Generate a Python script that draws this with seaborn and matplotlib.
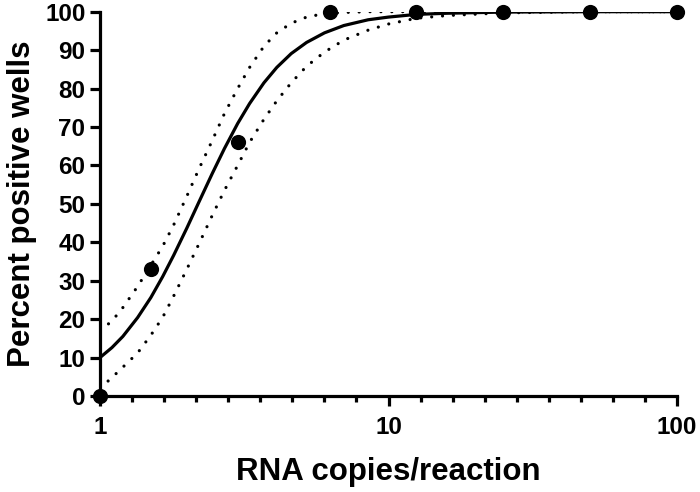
import numpy as np
import pandas as pd
import matplotlib
matplotlib.use("Agg")
import matplotlib.pyplot as plt
from matplotlib.ticker import FixedLocator, NullFormatter
import seaborn as sns

# observed data
copies = [1, 1.5, 3, 6.25, 12.5, 25, 50, 100]
percent = [0, 33, 66, 100, 100, 100, 100, 100]

# fitted curve and its confidence band
curve_x = [1, 1.1, 1.2, 1.35, 1.5, 1.65, 1.8, 2.0, 2.2, 2.45, 2.7, 3.0, 3.3, 3.7,
           4.1, 4.6, 5.2, 6.0, 7.0, 8.5, 10, 12.5, 16, 25, 50, 100]
fit_y = [10, 12.6, 15.5, 20.4, 25.6, 31.1, 36.6, 43.7, 50.4, 57.9, 64.4, 70.9, 76.1, 81.5,
         85.5, 89.1, 92.0, 94.5, 96.4, 97.9, 98.6, 99.3, 99.6, 99.9, 100, 100]
upper_y = [17, 19.5, 23, 28.5, 34, 39, 44.5, 52, 59, 66.5, 73.5, 80, 85.5, 91,
           94.5, 97, 98.6, 99.5, 99.8, 100, 100, 100, 100, 100, 100, 100]
lower_y = [2, 4.8, 7.5, 11.2, 15.8, 20.5, 26, 33, 39.5, 47, 53.5, 60, 66, 72,
           76.8, 81.5, 85.8, 89.5, 92.6, 95.2, 96.8, 98.3, 99.0, 99.7, 100, 100]

x_ticks = [1, 10, 100]
x_ticklabels = ["1", "10", "100"]
y_ticks = list(range(0, 101, 10))

sns.set_style("ticks")
plt.rcParams.update({
    'font.family': ['Liberation Sans', 'DejaVu Sans'],
    'font.weight': 'bold',
    'axes.labelweight': 'bold',
    'axes.labelsize': 22.5,
    'axes.labelcolor': 'black',
    'axes.linewidth': 2.3,
    'axes.edgecolor': 'black',
    'axes.spines.top': False,
    'axes.spines.right': False,
    'xtick.color': 'black',
    'ytick.color': 'black',
    'xtick.labelsize': 17.5,
    'ytick.labelsize': 17.5,
    'xtick.major.size': 7.5,
    'ytick.major.size': 7.5,
    'xtick.major.width': 2.3,
    'ytick.major.width': 2.3,
    'xtick.minor.size': 4,
    'xtick.minor.width': 2.3,
    'xtick.major.pad': 7,
    'ytick.major.pad': 3,
})

fig = plt.figure(figsize=(7.0, 4.92), dpi=100)
ax = fig.add_axes([100/700, 1 - 396/492, 577/700, (396 - 11.7)/492])

df_pts = pd.DataFrame({"copies": copies, "percent": percent})
df_fit = pd.DataFrame({"x": curve_x, "fit": fit_y, "upper": upper_y, "lower": lower_y})

dotted = (0, (0.01, 3.4))
sns.lineplot(data=df_fit, x="x", y="upper", ax=ax, color="black", lw=2.3, linestyle=dotted)
sns.lineplot(data=df_fit, x="x", y="lower", ax=ax, color="black", lw=2.3, linestyle=dotted)
for l in ax.lines:
    l.set_dash_capstyle("round")
sns.lineplot(data=df_fit, x="x", y="fit", ax=ax, color="black", lw=2.3)
sns.scatterplot(data=df_pts, x="copies", y="percent", ax=ax, color="black", s=120,
                edgecolor="black", linewidth=0, clip_on=False, zorder=5)

ax.set_xscale("log")
ax.set_xlim(1, 100)
ax.set_ylim(0, 100)
ax.xaxis.set_major_locator(FixedLocator(x_ticks))
ax.set_xticklabels(x_ticklabels)
ax.xaxis.set_minor_locator(FixedLocator([10 ** (d + k / 9) for d in (0, 1) for k in range(1, 9)]))
ax.xaxis.set_minor_formatter(NullFormatter())
ax.set_yticks(y_ticks)

ax.set_xlabel("RNA copies/reaction", labelpad=13)
ax.set_ylabel("Percent positive wells", labelpad=6)

fig.savefig("out.png", dpi=100)
